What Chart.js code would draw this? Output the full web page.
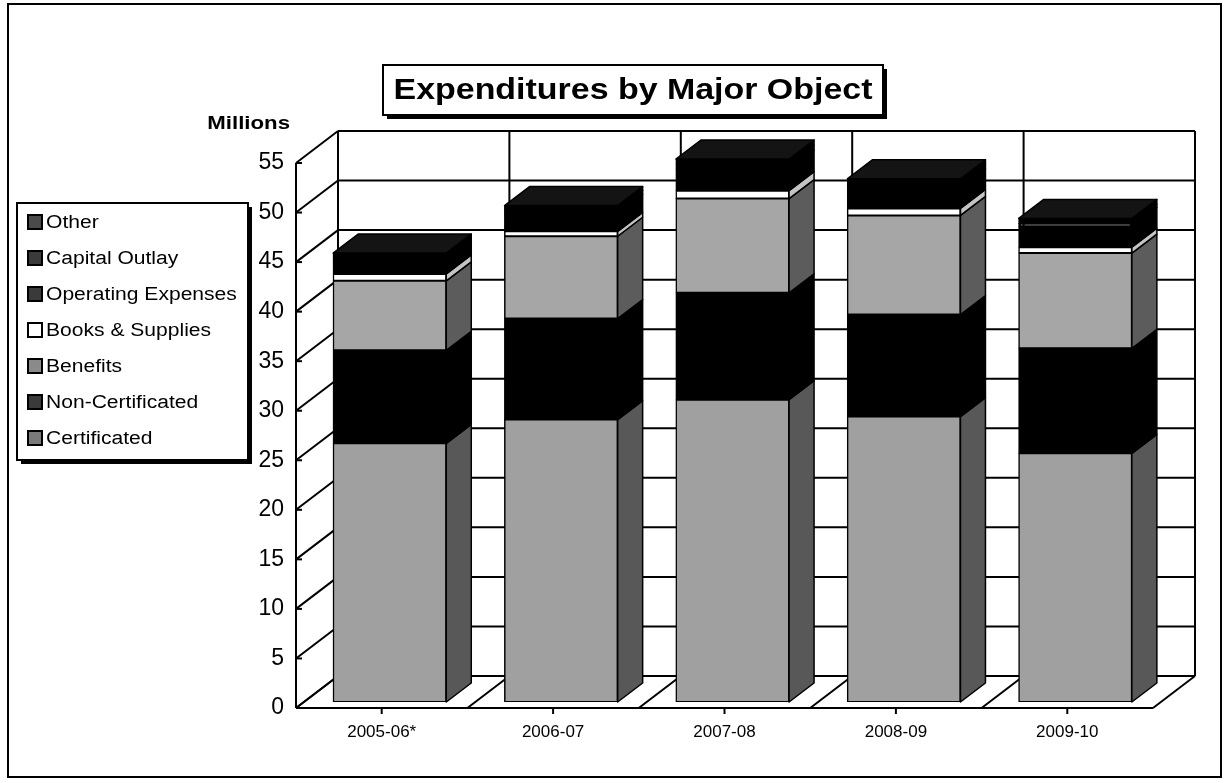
<!DOCTYPE html>
<html>
<head>
<meta charset="utf-8">
<title>Expenditures by Major Object</title>
<script src="https://cdn.jsdelivr.net/npm/chart.js@4.4.1/dist/chart.umd.min.js"></script>
<style>
  html, body { margin: 0; padding: 0; background: #fff; }
  #chart { display: block; }
</style>
</head>
<body>
<canvas id="chart" width="1225" height="783"></canvas>
<script>
// fiscal years and spending per object, in millions
const years = ['2005-06*', '2006-07', '2007-08', '2008-09', '2009-10'];
const certificated = [26.1, 28.5, 30.5, 28.8, 25.1];
const nonCertificated = [9.4, 10.2, 10.8, 10.3, 10.6];
const benefits = [7.0, 8.3, 9.5, 10.0, 9.6];
const booksSupplies = [0.7, 0.5, 0.8, 0.7, 0.6];
const operatingExpenses = [1.5, 1.8, 2.2, 2.1, 2.1];
const capitalOutlay = [0.3, 0.4, 0.5, 0.4, 0.3];
const other = [0.3, 0.4, 0.5, 0.5, 0.5];
const yMax = 55;
const yStep = 5;

// pseudo-3d offsets, relative to the bar front faces
const FRONT = { dx: -8, dy: 6 };
const BACK = { dx: 34, dy: -26 };
const DEPTH = { dx: 25, dy: -19 };
const TEXT_STRETCH = 1.17;

Chart.defaults.font.family = '"Liberation Sans", Arial, sans-serif';
Chart.defaults.color = '#000';

function line(ctx, x1, y1, x2, y2) {
  ctx.beginPath();
  ctx.moveTo(x1, y1);
  ctx.lineTo(x2, y2);
  ctx.stroke();
}

function poly(ctx, pts, fill) {
  ctx.beginPath();
  ctx.moveTo(pts[0][0], pts[0][1]);
  for (let i = 1; i < pts.length; i++) ctx.lineTo(pts[i][0], pts[i][1]);
  ctx.closePath();
  ctx.fillStyle = fill;
  ctx.fill();
  ctx.stroke();
}

function stretchedText(ctx, text, x, y, font, align) {
  ctx.save();
  ctx.font = font;
  ctx.textBaseline = 'middle';
  ctx.textAlign = align;
  ctx.translate(x, y);
  ctx.scale(TEXT_STRETCH, 1);
  ctx.fillStyle = '#000';
  ctx.fillText(text, 0, 0);
  ctx.restore();
}

function shadowBox(ctx, x, y, w, h) {
  ctx.fillStyle = '#000';
  ctx.fillRect(x + 4, y + h, w, 4);
  ctx.fillRect(x + w, y + 4, 4, h);
  ctx.fillStyle = '#fff';
  ctx.fillRect(x, y, w, h);
  ctx.lineWidth = 2;
  ctx.strokeStyle = '#000';
  ctx.strokeRect(x, y, w, h);
}

// back wall, side wall, floor and front axis lines
const walls = {
  id: 'walls',
  beforeDatasetsDraw(chart) {
    const { ctx, chartArea: a, scales: { x, y } } = chart;
    const y0 = y.getPixelForValue(0);
    const yTop = y.getPixelForValue(yMax);
    const slot = (a.right - a.left) / years.length;
    ctx.save();
    ctx.strokeStyle = '#000';
    ctx.lineWidth = 2;
    for (let v = 0; v <= yMax; v += yStep) {
      const py = y.getPixelForValue(v);
      line(ctx, a.left + BACK.dx, py + BACK.dy, a.right + BACK.dx, py + BACK.dy);
      line(ctx, a.left + FRONT.dx, py + FRONT.dy, a.left + BACK.dx, py + BACK.dy);
      line(ctx, a.left + FRONT.dx, py + FRONT.dy, a.left + FRONT.dx + 6, py + FRONT.dy);
    }
    for (let i = 0; i <= years.length; i++) {
      const bx = a.left + slot * i;
      line(ctx, bx + BACK.dx, yTop + BACK.dy, bx + BACK.dx, y0 + BACK.dy);
      line(ctx, bx + FRONT.dx, y0 + FRONT.dy, bx + BACK.dx, y0 + BACK.dy);
    }
    line(ctx, a.left + FRONT.dx, yTop + FRONT.dy, a.left + FRONT.dx, y0 + FRONT.dy);
    line(ctx, a.left + FRONT.dx, y0 + FRONT.dy, a.right + FRONT.dx, y0 + FRONT.dy);
    years.forEach((_, i) => {
      const cx = x.getPixelForValue(i) + FRONT.dx;
      line(ctx, cx, y0 + FRONT.dy, cx, y0 + FRONT.dy + 6);
    });
    ctx.restore();
  },
  // side and top faces of the stacked columns
  afterDatasetsDraw(chart) {
    const ctx = chart.ctx;
    const last = chart.data.datasets.length - 1;
    ctx.save();
    ctx.strokeStyle = '#000';
    ctx.lineWidth = 1.5;
    ctx.lineJoin = 'round';
    chart.data.datasets.forEach((ds, i) => {
      chart.getDatasetMeta(i).data.forEach(bar => {
        const { x, y, base, width } = bar.getProps(['x', 'y', 'base', 'width'], true);
        const l = x - width / 2, r = x + width / 2;
        poly(ctx, [[r, y], [r + DEPTH.dx, y + DEPTH.dy], [r + DEPTH.dx, base + DEPTH.dy], [r, base]], ds.sideColor);
        if (i === last) {
          poly(ctx, [[l, y], [l + DEPTH.dx, y + DEPTH.dy], [r + DEPTH.dx, y + DEPTH.dy], [r, y]], ds.topColor);
        }
      });
    });
    ctx.restore();
  },
  // frame, title box, unit label and legend box
  afterDraw(chart) {
    const ctx = chart.ctx;
    ctx.save();
    ctx.strokeStyle = '#000';
    ctx.lineWidth = 2;
    ctx.strokeRect(8, 4, 1213, 773);

    shadowBox(ctx, 383, 65, 500, 50);
    stretchedText(ctx, 'Expenditures by Major Object', 633, 91, 'bold 29px "Liberation Sans", Arial, sans-serif', 'center');
    stretchedText(ctx, 'Millions', 290, 124, 'bold 19px "Liberation Sans", Arial, sans-serif', 'right');

    shadowBox(ctx, 17, 203, 231, 257);
    const sets = chart.data.datasets.slice().reverse();
    sets.forEach((ds, i) => {
      const cy = 222 + i * 36;
      ctx.fillStyle = ds.swatchColor;
      ctx.fillRect(28, cy - 7, 14, 14);
      ctx.lineWidth = 2;
      ctx.strokeRect(28, cy - 7, 14, 14);
      stretchedText(ctx, ds.label, 46, cy + 1, '18px "Liberation Sans", Arial, sans-serif', 'left');
    });
    ctx.restore();
  }
};

const barStyle = {
  borderColor: '#000', borderWidth: 1.5, borderSkipped: false, inflateAmount: 0.5,
  barPercentage: 0.66, categoryPercentage: 1
};

new Chart(document.getElementById('chart'), {
  type: 'bar',
  data: {
    labels: years,
    datasets: [
      { label: 'Certificated', data: certificated, backgroundColor: '#a0a0a0', sideColor: '#585858', swatchColor: '#7a7a7a', ...barStyle },
      { label: 'Non-Certificated', data: nonCertificated, backgroundColor: '#000', sideColor: '#000', swatchColor: '#3a3a3a', ...barStyle },
      { label: 'Benefits', data: benefits, backgroundColor: '#a6a6a6', sideColor: '#5c5c5c', swatchColor: '#8a8a8a', ...barStyle },
      { label: 'Books & Supplies', data: booksSupplies, backgroundColor: '#ffffff', sideColor: '#c4c4c4', swatchColor: '#ffffff', ...barStyle },
      { label: 'Operating Expenses', data: operatingExpenses, backgroundColor: '#000', sideColor: '#000', swatchColor: '#3a3a3a', ...barStyle },
      { label: 'Capital Outlay', data: capitalOutlay, backgroundColor: '#000', sideColor: '#000', swatchColor: '#3a3a3a', ...barStyle },
      { label: 'Other', data: other, backgroundColor: '#000', sideColor: '#000', topColor: '#141414', swatchColor: '#4a4a4a', ...barStyle }
    ]
  },
  options: {
    responsive: false,
    animation: false,
    layout: { padding: { top: 157, right: 64, left: 0, bottom: 0 } },
    plugins: { legend: { display: false }, tooltip: { enabled: false } },
    scales: {
      x: {
        stacked: true,
        grid: { display: false, drawTicks: false },
        border: { display: false },
        ticks: { padding: 20, labelOffset: FRONT.dx, maxRotation: 0, font: { size: 17 } },
        afterFit: s => { s.height = 81; }
      },
      y: {
        stacked: true,
        min: 0,
        max: yMax,
        grid: { display: false, drawTicks: false },
        border: { display: false },
        ticks: { stepSize: yStep, padding: 20, labelOffset: FRONT.dy, font: { size: 23 } },
        afterFit: s => { s.width = 304; }
      }
    }
  },
  plugins: [walls]
});
</script>
</body>
</html>
